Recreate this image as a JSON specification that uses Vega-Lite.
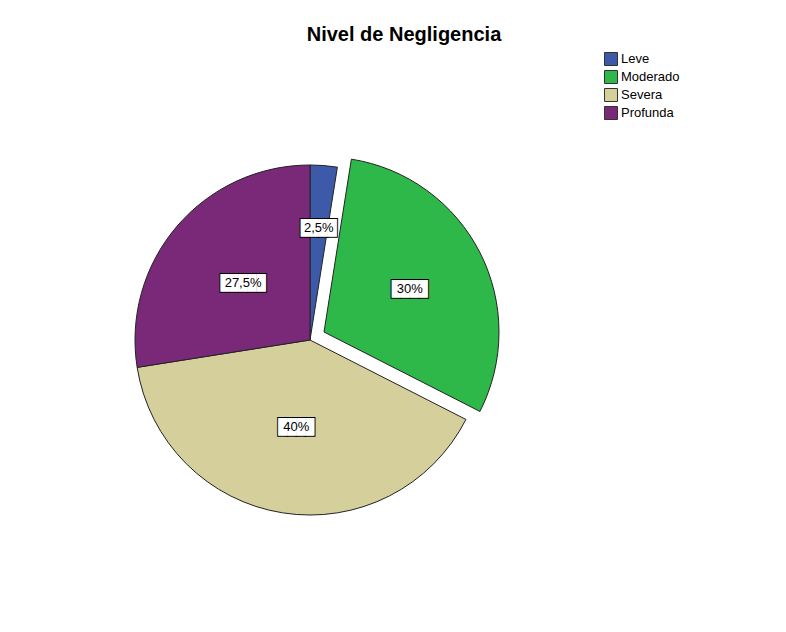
{
  "$schema": "https://vega.github.io/schema/vega-lite/v6.json",
  "width": 350,
  "height": 350,
  "autosize": {"type": "none"},
  "padding": {"left": 135, "top": 165, "right": 301, "bottom": 117},
  "background": "white",
  "title": {
    "text": "Nivel de Negligencia",
    "anchor": "middle",
    "dx": 94,
    "fontSize": 20,
    "fontWeight": "bold",
    "font": "Liberation Sans",
    "color": "black",
    "baseline": "alphabetic",
    "offset": -9
  },
  "data": {
    "values": [
      {"cat": "Leve", "pct": 2.5, "label": "2,5%", "ord": 1},
      {"cat": "Moderado", "pct": 30, "label": "30%", "ord": 2},
      {"cat": "Severa", "pct": 40, "label": "40%", "ord": 3},
      {"cat": "Profunda", "pct": 27.5, "label": "27,5%", "ord": 4}
    ]
  },
  "encoding": {
    "theta": {"field": "pct", "type": "quantitative", "stack": true, "scale": {"domain": [0, 100]}},
    "order": {"field": "ord", "type": "quantitative"}
  },
  "layer": [
    {
      "mark": {"type": "arc", "stroke": "#222222", "strokeWidth": 1},
      "encoding": {
        "color": {
          "field": "cat",
          "type": "nominal",
          "scale": {
            "domain": ["Leve", "Moderado", "Severa", "Profunda"],
            "range": ["#3d5aa9", "#2fb84a", "#d4cf9b", "#7a2979"]
          },
          "legend": {
            "title": null,
            "orient": "none",
            "legendX": 469,
            "legendY": -113,
            "symbolType": "square",
            "symbolSize": 169,
            "symbolStrokeColor": "#333333",
            "symbolStrokeWidth": 1,
            "symbolOpacity": 1,
            "labelFont": "Liberation Sans",
            "labelFontSize": 13,
            "labelColor": "black",
            "labelOffset": 3,
            "rowPadding": 0,
            "padding": 0
          }
        },
        "opacity": {"condition": {"test": "datum.cat === 'Moderado'", "value": 0}, "value": 1}
      }
    },
    {
      "mark": {"type": "arc", "stroke": "#222222", "strokeWidth": 1, "xOffset": 14, "yOffset": -8},
      "encoding": {
        "color": {"field": "cat", "type": "nominal", "legend": null},
        "opacity": {"condition": {"test": "datum.cat === 'Moderado'", "value": 1}, "value": 0}
      }
    },
    {
      "mark": {"type": "text", "radius": 88, "font": "DejaVu Sans Mono", "fontSize": 15, "fill": "white", "stroke": "black", "strokeWidth": 2, "align": "center", "baseline": "middle"},
      "encoding": {
        "text": {"condition": {"test": "datum.cat === 'Profunda'", "value": "█████"}, "value": "████"},
        "opacity": {"condition": {"test": "datum.cat === 'Leve' || datum.cat === 'Moderado'", "value": 0}, "value": 1}
      }
    },
    {
      "mark": {"type": "text", "radius": 88, "font": "DejaVu Sans Mono", "fontSize": 15, "fill": "white", "align": "center", "baseline": "middle"},
      "encoding": {
        "text": {"condition": {"test": "datum.cat === 'Profunda'", "value": "█████"}, "value": "████"},
        "opacity": {"condition": {"test": "datum.cat === 'Leve' || datum.cat === 'Moderado'", "value": 0}, "value": 1}
      }
    },
    {
      "mark": {"type": "text", "radius": 88, "font": "Liberation Sans", "fontSize": 13, "fill": "black", "align": "center", "baseline": "middle"},
      "encoding": {
        "text": {"field": "label", "type": "nominal"},
        "opacity": {"condition": {"test": "datum.cat === 'Leve' || datum.cat === 'Moderado'", "value": 0}, "value": 1}
      }
    },
    {
      "mark": {"type": "text", "radius": 112, "font": "DejaVu Sans Mono", "fontSize": 15, "fill": "white", "stroke": "black", "strokeWidth": 2, "align": "center", "baseline": "middle"},
      "encoding": {
        "text": {"value": "████"},
        "opacity": {"condition": {"test": "datum.cat === 'Leve' || datum.cat === 'Moderado'", "value": 1}, "value": 0}
      }
    },
    {
      "mark": {"type": "text", "radius": 112, "font": "DejaVu Sans Mono", "fontSize": 15, "fill": "white", "align": "center", "baseline": "middle"},
      "encoding": {
        "text": {"value": "████"},
        "opacity": {"condition": {"test": "datum.cat === 'Leve' || datum.cat === 'Moderado'", "value": 1}, "value": 0}
      }
    },
    {
      "mark": {"type": "text", "radius": 112, "font": "Liberation Sans", "fontSize": 13, "fill": "black", "align": "center", "baseline": "middle"},
      "encoding": {
        "text": {"field": "label", "type": "nominal"},
        "opacity": {"condition": {"test": "datum.cat === 'Leve' || datum.cat === 'Moderado'", "value": 1}, "value": 0}
      }
    }
  ],
  "config": {
    "view": {"stroke": null},
    "font": "Liberation Sans"
  }
}
